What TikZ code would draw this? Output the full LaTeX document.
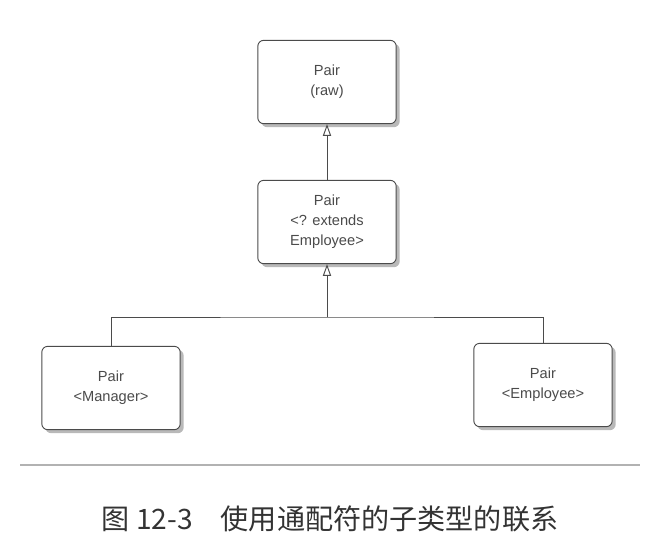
\documentclass[tikz,border=0pt]{standalone}
\usepackage{fontspec}
\setmainfont{Liberation Sans}
\newfontfamily\cjkfont{Noto Sans CJK SC}
\usetikzlibrary{arrows.meta,shadows}
\definecolor{InkGray}{RGB}{75, 75, 75}

\begin{document}
\begin{tikzpicture}[x=0.03cm, y=-0.03cm,
                typebox/.style={draw=InkGray, fill=white, thick, rounded corners=5pt, minimum width=4.15cm, minimum height=2.5cm, align=center, text=InkGray, font=\fontsize{12.5}{17}\selectfont, drop shadow={shadow xshift=3pt, shadow yshift=-3pt, fill=black!55}},
                gen/.style={-{Triangle[open, length=10pt, width=7pt]}, thick, draw=InkGray},
                link/.style={thick, draw=InkGray}
            ]
                \useasboundingbox (0, 0) rectangle (663, 552);
                
                % Type Boxes
                \node[typebox] (raw) at (327, 82) {Pair\\(raw)};
                \node[typebox] (wild) at (327, 222) {Pair\\<? extends\\Employee>};
                \node[typebox] (mgr) at (111, 388) {Pair\\<Manager>};
                \node[typebox] (emp) at (543, 385) {Pair\\<Employee>};
                
                % Subtype links
                \coordinate (jn) at (327, 317);
                \draw[gen] (wild) -- (raw);
                \draw[gen] (jn) -- (wild);
                \draw[link] (mgr.north) |- (jn) -| (emp.north);
                
                % Rule and caption
                \draw[black!30, line width=1.2pt] (20, 465) -- (640, 465);
                \node[font=\cjkfont\fontsize{24}{28}\selectfont, text=black!80] (caption) at (330, 519) {图 12-3\quad 使用通配符的子类型的联系};
            \end{tikzpicture}
\end{document}
